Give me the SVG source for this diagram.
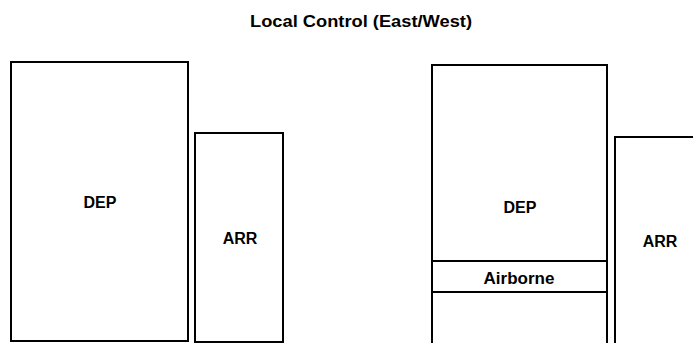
<svg xmlns="http://www.w3.org/2000/svg" width="693" height="343" viewBox="0 0 693 343">
<style>
.box{fill:#fff;stroke:#000;stroke-width:2}
.ln{stroke:#000;stroke-width:2;fill:none}
.lbl{font-family:"Liberation Sans",Arial,sans-serif;font-weight:bold;font-size:16px;text-anchor:middle;fill:#000}
.ttl{font-family:"Liberation Sans",Arial,sans-serif;font-weight:bold;font-size:17px;text-anchor:middle;fill:#000}
</style>
<rect width="693" height="343" fill="#fff"/>
<text class="ttl" x="361" y="27" textLength="222" lengthAdjust="spacingAndGlyphs">Local Control (East/West)</text>
<g id="left-dep">
<rect class="box" x="11" y="62" width="177" height="279"/>
<text class="lbl" x="100" y="208">DEP</text>
</g>
<g id="left-arr">
<rect class="box" x="195" y="133" width="88" height="209"/>
<text class="lbl" x="240" y="244">ARR</text>
</g>
<g id="right-dep">
<rect class="box" x="432" y="65" width="175" height="290"/>
<text class="lbl" x="520" y="213">DEP</text>
</g>
<g id="airborne">
<line class="ln" x1="432" y1="261" x2="607" y2="261"/>
<line class="ln" x1="432" y1="292" x2="607" y2="292"/>
<text class="lbl" x="519" y="284" style="font-size:17px">Airborne</text>
</g>
<g id="right-arr">
<rect class="box" x="615" y="137" width="100" height="220"/>
<text class="lbl" x="660" y="247">ARR</text>
</g>
<g id="connectors"></g>
</svg>
